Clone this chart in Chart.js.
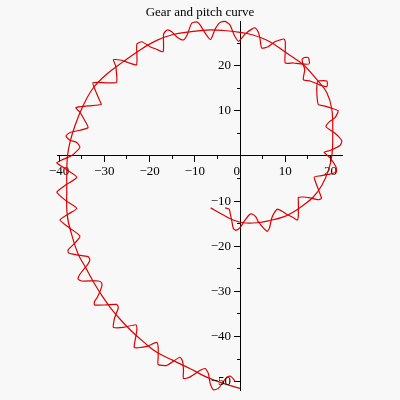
<!DOCTYPE html>
<html>
<head>
<meta charset="utf-8">
<title>Gear and pitch curve</title>
<script src="https://cdn.jsdelivr.net/npm/chart.js"></script>
<style>
  html, body { margin: 0; padding: 0; background: #f8f8f8; }
  #gearChart { display: block; }
</style>
</head>
<body>
<canvas id="gearChart" width="400" height="400"></canvas>
<script>
// values, as [x, y]
const pitchCurve = [
  [-6.5, -11.5], [-4.0, -12.9], [-1.5, -14.2], [0.7, -14.8], [3.7, -14.8], [6.6, -14.3],
  [9.6, -13.5], [11.8, -12.4], [14.0, -10.9], [16.2, -9.1], [18.1, -6.5], [19.5, -3.3],
  [20.3, 0.0], [20.5, 5.2], [20.3, 10.3], [19.2, 14.0], [17.0, 16.9], [14.0, 20.2],
  [10.3, 22.8], [6.6, 25.3], [2.9, 26.8], [0.0, 27.4], [-3.7, 27.8], [-7.4, 27.9],
  [-11.1, 27.5], [-14.8, 26.9], [-18.4, 25.6], [-22.1, 23.5], [-25.8, 20.9], [-29.5, 18.1],
  [-32.5, 15.0], [-34.7, 11.1], [-36.5, 6.7], [-37.6, 3.0], [-38.2, -0.6], [-38.3, -7.2],
  [-38.2, -13.1], [-37.2, -17.5], [-35.8, -21.7], [-34.1, -24.8], [-32.3, -28.1], [-30.5, -31.0],
  [-28.5, -33.8], [-26.3, -36.4], [-23.9, -38.9], [-21.2, -41.3], [-18.4, -43.5], [-14.8, -45.3],
  [-11.1, -47.1], [-7.4, -49.0], [-3.7, -50.4], [0.0, -51.5]
];

const gearBottom = [
  [-3.3, -11.5], [-2.4, -11.8], [-2.1, -13.1], [-1.8, -14.5], [-1.5, -16.0], [-0.9, -16.5],
  [0.0, -15.9], [1.1, -14.2], [2.2, -12.9], [2.8, -12.9], [3.5, -13.5], [4.0, -14.5],
  [5.2, -16.0], [6.0, -16.7], [6.5, -16.0], [7.0, -13.8], [7.7, -12.4], [8.3, -11.8],
  [9.2, -12.2], [10.3, -12.9], [11.8, -13.7], [12.7, -14.2], [12.9, -13.1], [12.9, -10.2],
  [12.9, -9.2], [13.9, -9.1], [15.5, -9.3], [17.3, -9.7], [18.0, -9.4]
];

const gearRight = [
  [17.5, -7.9], [16.6, -5.5], [16.4, -4.7], [17.7, -4.4], [19.9, -4.0], [21.3, -3.6],
  [21.2, -2.4], [19.9, -0.4], [18.6, 0.8], [19.9, 1.2], [22.1, 2.3], [22.5, 3.3],
  [21.7, 4.4], [20.6, 5.3], [19.0, 6.5], [19.9, 7.7], [21.0, 8.5], [21.7, 10.0],
  [19.9, 10.7], [18.6, 11.1], [17.3, 11.4], [17.0, 13.6], [17.0, 15.8], [17.3, 16.6],
  [19.2, 16.6], [19.2, 15.4], [17.7, 15.7], [15.5, 16.6], [14.0, 16.9], [14.3, 19.1],
  [13.7, 21.3], [14.2, 21.8], [15.1, 21.8], [15.3, 20.4], [13.3, 20.4], [11.8, 20.6],
  [10.0, 20.6], [10.0, 23.1], [10.0, 25.3], [9.7, 25.9], [8.8, 25.7], [7.7, 25.3],
  [6.2, 24.2], [4.8, 23.9], [4.4, 26.1], [4.0, 27.5], [3.3, 28.4], [2.6, 28.1],
  [1.1, 27.0], [-0.3, 25.4]
];

const gearTop = [
  [-1.3, 26.8], [-2.2, 29.0], [-3.3, 29.8], [-4.4, 29.6], [-5.5, 28.1], [-6.5, 25.8],
  [-7.7, 27.2], [-8.8, 29.0], [-9.6, 29.7], [-10.7, 29.4], [-11.7, 26.8], [-12.5, 25.7],
  [-13.9, 26.3], [-15.1, 27.5], [-16.1, 27.9], [-16.9, 27.0], [-17.0, 23.1], [-18.6, 23.7],
  [-19.9, 24.2], [-21.7, 25.3], [-22.8, 24.8], [-22.8, 22.4], [-22.9, 20.2], [-24.8, 20.7],
  [-26.2, 21.2], [-28.0, 21.3]
];

const gearUpperLeft = [
  [-27.5, 20.0], [-27.3, 18.2], [-27.3, 16.3], [-29.2, 16.2], [-32.5, 16.2], [-31.9, 14.3],
  [-31.0, 12.2], [-30.7, 11.4], [-33.6, 11.1], [-36.3, 10.7], [-35.4, 9.7], [-34.7, 8.5],
  [-33.6, 6.3], [-35.4, 5.7], [-37.6, 5.2], [-38.5, 4.4], [-37.6, 3.5], [-36.1, 3.0],
  [-35.4, 1.9], [-37.2, 0.1], [-39.4, -0.9], [-40.5, -1.5]
];

const gearLeft = [
  [-38.7, -2.8], [-36.1, -4.7], [-38.5, -6.4], [-40.5, -8.0], [-38.5, -9.9], [-36.1, -11.6],
  [-38.0, -12.9], [-39.8, -14.2], [-37.6, -16.0], [-35.4, -17.8], [-36.7, -19.5], [-38.0, -20.8]
];

const gearLowerLeft = [
  [-37.9, -21.5], [-36.1, -21.9], [-33.6, -22.3], [-33.2, -23.0], [-33.6, -23.9], [-35.4, -26.2],
  [-35.8, -27.3], [-35.0, -27.7], [-31.3, -27.7], [-30.6, -28.1], [-30.6, -29.0], [-31.6, -31.4],
  [-32.1, -32.1], [-32.2, -33.0], [-29.5, -33.0], [-27.3, -32.9], [-26.9, -33.6], [-27.7, -35.8],
  [-28.0, -37.3], [-28.0, -38.0], [-25.8, -38.0], [-23.0, -37.4], [-22.8, -38.4], [-23.0, -39.8],
  [-23.4, -42.4], [-22.5, -42.5], [-20.6, -42.2], [-18.4, -41.3], [-18.1, -42.4], [-18.1, -44.6],
  [-18.1, -46.2], [-16.2, -46.4], [-13.3, -44.6], [-12.7, -45.5], [-12.5, -47.5], [-12.5, -49.3],
  [-11.1, -49.0], [-8.8, -47.5], [-7.7, -47.1], [-7.0, -48.2], [-6.6, -50.4], [-5.9, -51.8],
  [-4.8, -51.5], [-2.9, -49.0], [-2.1, -48.8], [-1.3, -49.6], [-1.1, -50.1]
];

const xMajorTicks = [-40, -30, -20, -10, 0, 10, 20];
const yMajorTicks = [20, 10, -10, -20, -30, -40, -50];
const xRange = [-40.4, 22.7];
const yRange = [-51.9, 29.9];

const serif = "'Liberation Serif', 'Times New Roman', serif";
const curveColor = "#dd0000";

const toPoints = (pairs) => pairs.map(([x, y]) => ({ x, y }));

const gearCurve = [].concat(gearBottom, gearRight, gearTop, gearUpperLeft, gearLeft, gearLowerLeft);

function signed(value) {
  return value < 0 ? "\u2212" + Math.abs(value) : String(value);
}

function xLabel(value) {
  if (!xMajorTicks.includes(value)) return "";
  // Maple puts the origin label just left of the vertical axis
  if (value === 0) return "0\u2002";
  return signed(value);
}

function axisScale(axis, range, at, step, tickLength, callback) {
  return {
    axis: axis,
    type: "linear",
    min: range[0],
    max: range[1],
    position: at,
    border: { display: true, color: "#000", width: 1 },
    grid: { drawOnChartArea: false, drawTicks: true, tickLength: tickLength, color: "#000" },
    ticks: {
      stepSize: step,
      autoSkip: false,
      includeBounds: false,
      maxRotation: 0,
      padding: 2,
      color: "#000",
      font: { family: serif, size: 13 },
      callback: callback,
    },
  };
}

// a centred y axis puts its labels on the wrong side, so write them
// beside the axis line ourselves, at the scale's own tick positions
const yAxisLabels = {
  id: "yAxisLabels",
  afterDraw(chart) {
    const { ctx } = chart;
    const xAxis = chart.scales.x;
    const yAxis = chart.scales.y;
    const right = xAxis.getPixelForValue(0) - 9;
    ctx.save();
    ctx.font = "13px " + serif;
    ctx.fillStyle = "#000";
    ctx.textAlign = "right";
    ctx.textBaseline = "middle";
    yMajorTicks.forEach((value) => {
      ctx.fillText(signed(value), right, yAxis.getPixelForValue(value));
    });
    ctx.restore();
  },
};

const ctx = document.getElementById("gearChart");

new Chart(ctx.getContext("2d"), {
  type: "scatter",
  data: {
    datasets: [
      {
        label: "pitch",
        data: toPoints(pitchCurve),
        showLine: true,
        borderColor: curveColor,
        borderWidth: 1.2,
        pointRadius: 0,
        tension: 0.4,
        clip: false,
      },
      {
        label: "gear",
        data: toPoints(gearCurve),
        showLine: true,
        borderColor: curveColor,
        borderWidth: 1.2,
        pointRadius: 0,
        tension: 0.2,
        clip: false,
      },
    ],
  },
  options: {
    responsive: false,
    animation: false,
    devicePixelRatio: 1,
    layout: { padding: { left: 57.3, right: 57.3, top: 0, bottom: 6.7 } },
    plugins: {
      legend: { display: false },
      tooltip: { enabled: false },
      title: {
        display: true,
        text: "Gear and pitch curve",
        color: "#000",
        font: { family: serif, size: 13, weight: "normal", lineHeight: 1.2 },
        padding: { top: 5, bottom: 0.4 },
      },
    },
    scales: {
      x: axisScale("x", xRange, { y: 0 }, 10, 6, xLabel),
      xMinor: axisScale("x", xRange, { y: 0 }, 5, 3, () => ""),
      y: axisScale("y", yRange, { x: 0 }, 10, 6, () => ""),
      yMinor: axisScale("y", yRange, { x: 0 }, 5, 3, () => ""),
    },
  },
  plugins: [yAxisLabels],
});
</script>
</body>
</html>
